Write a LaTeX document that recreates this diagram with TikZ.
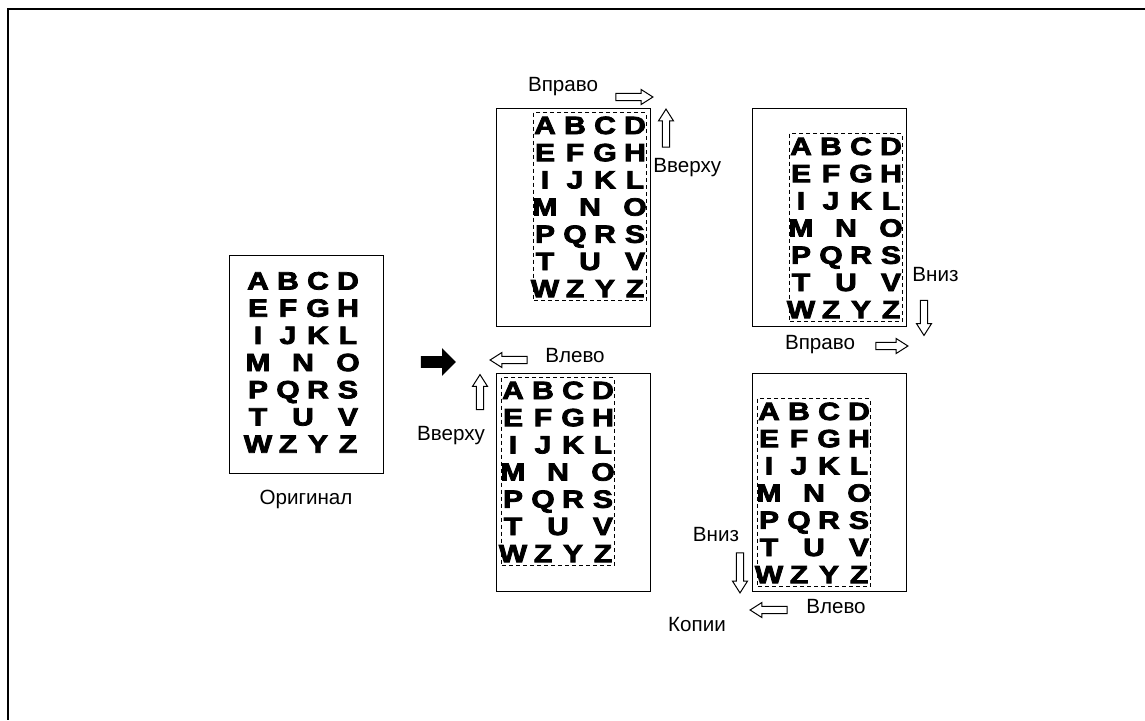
\documentclass[tikz,border=0pt]{standalone}
\usepackage{fontspec}
\setmainfont{Liberation Sans}
\newfontfamily\chartfont[FakeBold=3]{Liberation Sans Bold}
\usetikzlibrary{shapes.arrows, positioning, calc}

\begin{document}
\begin{tikzpicture}[
  x=0.5pt, y=-0.5pt,
  font=\fontsize{10.3}{12}\selectfont,
  page/.style={draw, line width=0.5pt, minimum width=77pt, minimum height=109pt, inner sep=0pt},
  frame/.style={draw, line width=0.4pt, dash pattern=on 2pt off 1.5pt},
  letter/.style={font=\chartfont\fontsize{12.5}{12.5}\selectfont, inner sep=0pt,
                 text height=9pt, text depth=0pt},
  lbl/.style={inner sep=0pt, text height=7.4pt, text depth=0pt},
  hollow/.style={single arrow, draw, line width=0.5pt, fill=white,
                 inner xsep=0pt, inner ysep=1.6pt,
                 minimum height=18.5pt,
                 single arrow head extend=1.9pt, single arrow tip angle=65},
  vhollow/.style={hollow, inner xsep=1.6pt, inner ysep=0pt},
  bigarrow/.style={single arrow, fill=black, inner xsep=0pt, inner ysep=2.75pt,
                 minimum height=17.5pt,
                 single arrow head extend=4pt, single arrow tip angle=90},
  pics/chart/.style={code={
    \foreach \r/\row in {0/{A/0,B/1,C/2,D/3}, 1/{E/0,F/1,G/2,H/3}, 2/{I/0,J/1,K/2,L/3},
                         3/{M/0,N/1.5,O/3}, 4/{P/0,Q/1,R/2,S/3}, 5/{T/0,U/1.5,V/3},
                         6/{W/0,Z/1,Y/2,Z/3}}
      \foreach \ch/\c [count=\i] in \row
        \node[letter] (l\r-\i) at (12+30*\c, 12.5+27.2*\r) {\scalebox{1.2}[1]{\ch}};
  }}]

\useasboundingbox (0,0) rectangle (1145,720);
\draw[line width=1pt] (1145,9) -- (8,9) -- (8,720);

% pages
\node[page] (orig) at (306,364) {};
\node[page] (copyA) at (573.5,217) {};
\node[page] (copyB) at (829.5,217) {};
\node[page] (copyC) at (573.5,482) {};
\node[page] (copyD) at (829.5,482) {};

% image blocks
\coordinate (b0) at ($(orig.center)+(-60,-96)$);
\coordinate (b1) at ($(copyA.north east)+(-118,5)$);
\coordinate (b2) at ($(copyB.south east)+(-118,-193)$);
\coordinate (b3) at ($(copyC.north west)+(5,5)$);
\coordinate (b4) at ($(copyD.south west)+(5,-193)$);

\pic (c0) at (b0) {chart};
\foreach \b in {1,2,3,4}{
  \pic (c\b) at (b\b) {chart};
  \draw[frame] (b\b) rectangle ++(113,188);
}

\node[lbl] (origl) at (306,497) {Оригинал};
\node[bigarrow] (go) at (435.5,362) {};

% copy A: right + up
\node[lbl] (rAl) at (563,84) {Вправо};
\node[hollow] (rA) at (631.5,97) {};
\node[vhollow, shape border rotate=90, minimum height=19pt] (upA) at (666,131) {};
\node[lbl, anchor=west] (upAl) at (653,165) {Вверху};

% copy B: down + right
\node[lbl, anchor=west] (dnBl) at (912,274) {Вниз};
\node[vhollow, shape border rotate=270, minimum height=17.5pt] (dnB) at (924,315) {};
\node[lbl] (rBl) at (820,342) {Вправо};
\node[hollow, minimum height=16pt] (rB) at (889,346) {};

% copy C: left + up
\node[hollow, shape border rotate=180] (lC) at (511.5,360) {};
\node[lbl] (lCl) at (575,355) {Влево};
\node[vhollow, shape border rotate=90, minimum height=17.5pt] (upC) at (480,395) {};
\node[lbl] (upCl) at (451,433) {Вверху};

% copy D: down + left
\node[lbl] (dnDl) at (716,534) {Вниз};
\node[vhollow, shape border rotate=270, minimum height=20pt] (dnD) at (740,570) {};
\node[hollow, shape border rotate=180] (lD) at (771.5,610) {};
\node[lbl] (lDl) at (836,606) {Влево};
\node[lbl] (kop) at (697,624) {Копии};
\end{tikzpicture}
\end{document}
